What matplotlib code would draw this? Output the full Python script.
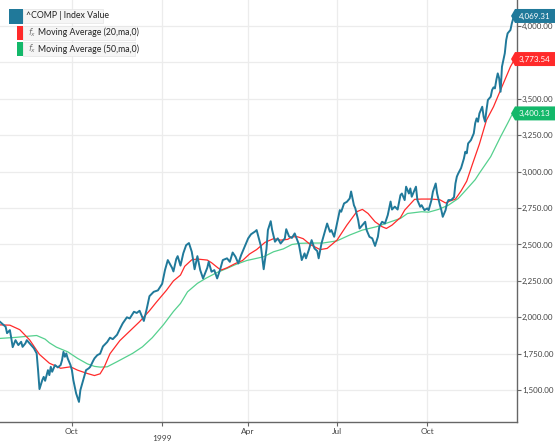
import numpy as np
import matplotlib
matplotlib.use('Agg')
import matplotlib.pyplot as plt
from matplotlib.patches import Rectangle, Polygon
from matplotlib.transforms import IdentityTransform

# Nasdaq composite, Jul 1998 - Dec 1999, x = trading session counted from 21 Jul 1998
comp_session = [0, 4, 5, 7, 8, 9, 11, 13, 15, 16, 18, 19, 21, 24, 26, 27, 28, 30, 31, 32,
                34, 35, 36, 37, 39, 41, 43, 44, 45, 46, 47, 48, 50, 51, 52, 53, 54, 56, 57, 58,
                59, 60, 61, 63, 64, 66, 67, 69, 71, 73, 76, 78, 80, 83, 85, 87, 90, 92, 95, 97,
                99, 102, 104, 106, 109, 112, 115, 117, 119, 122, 123, 125, 126, 128, 130, 132, 134, 136, 137, 138,
                140, 142, 144, 147, 148, 150, 152, 154, 156, 158, 161, 163, 165, 167, 169, 171, 174, 176, 178, 181,
                182, 184, 185, 187, 189, 190, 192, 193, 195, 197, 199, 202, 203, 205, 207, 209, 212, 214, 216, 217,
                219, 221, 223, 225, 226, 228, 230, 232, 234, 235, 237, 239, 241, 242, 244, 246, 248, 249, 251, 252,
                254, 255, 257, 259, 260, 262, 264, 266, 268, 269, 271, 273, 275, 277, 278, 280, 282, 284, 285, 287,
                288, 290, 291, 292, 294, 295, 296, 298, 299, 301, 303, 304, 306, 307, 309, 310, 312, 313, 314, 316,
                317, 318, 320, 322, 323, 324, 325, 327, 329, 330, 331, 332, 334, 336, 337, 338, 339, 340, 342, 343,
                344, 345, 346, 348, 349, 350, 351, 352, 353, 354, 355, 356, 357, 358, 359, 360, 361, 362, 363, 364, 365]
comp_value = [1969, 1935, 1891, 1912, 1857, 1795, 1843, 1809, 1832, 1797, 1821, 1843, 1821, 1788, 1752, 1637, 1507, 1569, 1591, 1564,
              1637, 1603, 1660, 1626, 1672, 1656, 1672, 1706, 1763, 1729, 1752, 1718, 1672, 1637, 1569, 1523, 1477, 1419, 1500, 1534,
              1569, 1603, 1637, 1650, 1660, 1700, 1718, 1740, 1750, 1800, 1830, 1860, 1850, 1880, 1920, 1958, 2000, 1992, 2038, 2030,
              2045, 1975, 2055, 2145, 2175, 2185, 2230, 2324, 2393, 2340, 2315, 2400, 2420, 2355, 2440, 2495, 2510, 2450, 2393, 2330,
              2420, 2324, 2267, 2340, 2381, 2313, 2324, 2267, 2324, 2393, 2405, 2381, 2445, 2416, 2370, 2427, 2496, 2542, 2570, 2590,
              2599, 2525, 2490, 2330, 2470, 2599, 2660, 2600, 2519, 2542, 2507, 2542, 2605, 2555, 2545, 2576, 2500, 2393, 2439, 2405,
              2462, 2530, 2473, 2455, 2405, 2507, 2576, 2644, 2587, 2599, 2553, 2644, 2736, 2725, 2782, 2793, 2816, 2864, 2770, 2748,
              2668, 2610, 2633, 2656, 2599, 2553, 2542, 2490, 2553, 2622, 2656, 2644, 2702, 2795, 2740, 2760, 2740, 2839, 2850, 2805,
              2897, 2850, 2885, 2828, 2874, 2897, 2805, 2759, 2770, 2736, 2748, 2736, 2805, 2862, 2919, 2850, 2770, 2736, 2690, 2736,
              2782, 2805, 2805, 2825, 2919, 2966, 2988, 3025, 3090, 3137, 3126, 3194, 3217, 3263, 3332, 3366, 3343, 3400, 3446, 3377,
              3343, 3423, 3492, 3515, 3561, 3579, 3572, 3630, 3675, 3641, 3549, 3721, 3767, 3813, 3904, 3950, 3961, 3973, 4019, 4053, 4069.31]

ma20_session = [0, 7, 14, 21, 28, 35, 43, 50, 55, 62, 67, 71, 74, 78, 85, 92, 99, 106, 111, 118,
                123, 128, 131, 136, 140, 147, 150, 155, 157, 161, 167, 172, 177, 182, 188, 194, 199, 204, 207, 211,
                215, 220, 224, 227, 232, 239, 246, 253, 257, 261, 266, 271, 274, 278, 282, 284, 287, 294, 299, 306,
                312, 316, 319, 323, 327, 331, 335, 340, 345, 350, 355, 360, 362, 364, 365]
ma20_value = [1948, 1946, 1915, 1845, 1745, 1685, 1650, 1660, 1637, 1614, 1600, 1612, 1660, 1750, 1840, 1905, 1970, 2045, 2105, 2185,
              2250, 2290, 2350, 2395, 2400, 2393, 2375, 2336, 2325, 2340, 2370, 2390, 2435, 2465, 2515, 2540, 2530, 2535, 2553, 2553,
              2540, 2500, 2480, 2465, 2473, 2530, 2633, 2725, 2741, 2713, 2656, 2622, 2610, 2633, 2668, 2685, 2736, 2810, 2812, 2812,
              2807, 2785, 2798, 2812, 2868, 2935, 3050, 3190, 3354, 3446, 3561, 3675, 3721, 3755, 3773.54]

ma50_session = [0, 11, 21, 26, 32, 35, 40, 48, 55, 62, 67, 71, 76, 83, 94, 101, 108, 116, 123, 128,
                133, 140, 146, 154, 161, 167, 175, 182, 187, 194, 201, 207, 213, 220, 229, 239, 248, 257, 267, 277,
                284, 289, 299, 304, 311, 318, 325, 331, 337, 340, 348, 355, 360, 363, 365]
ma50_value = [1855, 1862, 1871, 1875, 1850, 1825, 1795, 1763, 1718, 1680, 1663, 1658, 1660, 1695, 1752, 1797, 1860, 1950, 2040, 2095,
              2175, 2233, 2268, 2308, 2336, 2362, 2390, 2405, 2416, 2450, 2470, 2500, 2508, 2510, 2510, 2525, 2565, 2599, 2622, 2656,
              2679, 2713, 2725, 2722, 2741, 2770, 2816, 2880, 2945, 2990, 3103, 3240, 3332, 3389, 3400.13]

tick_session = [51, 115, 176, 239, 303]
tick_label = ['Oct', '\n1999', 'Apr', 'Jul', 'Oct']
y_ticks = [1500, 1750, 2000, 2250, 2500, 2750, 3000, 3250, 3500, 3750, 4000]
hidden_y = [3750]   # covered by the 20-day tag in the original

series_names = ['^COMP | Index Value', 'Moving Average (20,ma,0)', 'Moving Average (50,ma,0)']

TEAL = '#20799a'
RED = '#ff2a2a'
GREEN = '#13b86a'
GREEN_LINE = '#55d08e'

plt.rcParams['font.family'] = ['Lato', 'DejaVu Sans']

W, H = 555, 445
fig = plt.figure(figsize=(W / 100, H / 100), dpi=100)
ax = fig.add_axes([0, 23 / H, 516.5 / W, 422 / H])

ax.plot(ma50_session, ma50_value, color=GREEN_LINE, lw=0.9, zorder=3)
ax.plot(ma20_session, ma20_value, color=RED, lw=0.9, zorder=4)
ax.plot(comp_session, comp_value, color=TEAL, lw=1.4, zorder=5)

ax.set_xlim(0, 366.3)
ax.set_ylim(1281, 4179)

ax.set_xticks(tick_session)
ax.set_xticklabels(tick_label, linespacing=0.95)
ax.set_yticks(y_ticks)
ax.set_yticklabels(['' if v in hidden_y else f'{v:,.2f}' for v in y_ticks])
ax.yaxis.tick_right()
ax.grid(True, color='#ececec', lw=0.9, zorder=0)

for s in ['top', 'left']:
  ax.spines[s].set_visible(False)
for s in ['right', 'bottom']:
  ax.spines[s].set_color('#666666')
  ax.spines[s].set_linewidth(1.0)

ax.tick_params(axis='y', length=3, width=0.8, color='#666666', labelsize=5.8, labelcolor='#444444', pad=1)
ax.tick_params(axis='x', length=3, width=0.8, color='#666666', labelsize=6.0, labelcolor='#444444', pad=1.5)

def fx(px):
  return px / W

def fy(py):
  return 1 - py / H

# legend, top-left
colors = [TEAL, RED, GREEN]
box_right = [103, 135, 135]
for i, (name, c) in enumerate(zip(series_names, colors)):
  top = 9 + i * 16.5
  fig.add_artist(Rectangle((fx(23), fy(top + 14)), (box_right[i] - 23) / W, 14 / H, transform=fig.transFigure,
                           facecolor='#f5f5f5', edgecolor='#e4e4e4', lw=0.5, zorder=10))
  if i == 0:
    fig.add_artist(Rectangle((fx(8.5), fy(top + 14.5)), 14.5 / W, 14.5 / H, transform=fig.transFigure,
                             facecolor=c, edgecolor='none', zorder=11))
    fig.text(fx(26), fy(top + 7), name, fontsize=6.3, color='#222222', va='center', ha='left', zorder=12)
  else:
    fig.add_artist(Rectangle((fx(17), fy(top + 14)), 6 / W, 14 / H, transform=fig.transFigure,
                             facecolor=c, edgecolor='none', zorder=11))
    fig.text(fx(27.5), fy(top + 7), r'$f_x$', fontsize=6, color='#777777', va='center', ha='left', zorder=12)
    fig.text(fx(38), fy(top + 7), name, fontsize=6.3, color='#222222', va='center', ha='left', zorder=12)

# last value tags on the right axis
last_vals = [comp_value[-1], ma20_value[-1], ma50_value[-1]]
for v, c in zip(last_vals, colors):
  yd = ax.transData.transform((0, v))[1]
  pts = [(511, yd), (515, yd + 7), (556, yd + 7), (556, yd - 7), (515, yd - 7)]
  fig.add_artist(Polygon(pts, closed=True, transform=IdentityTransform(), facecolor=c, edgecolor='none', zorder=20))
  fig.text(518.5 / W, yd / H, f'{v:,.2f}', fontsize=5.8, color='white', va='center', ha='left', zorder=21)

fig.savefig('out.png', dpi=100)
